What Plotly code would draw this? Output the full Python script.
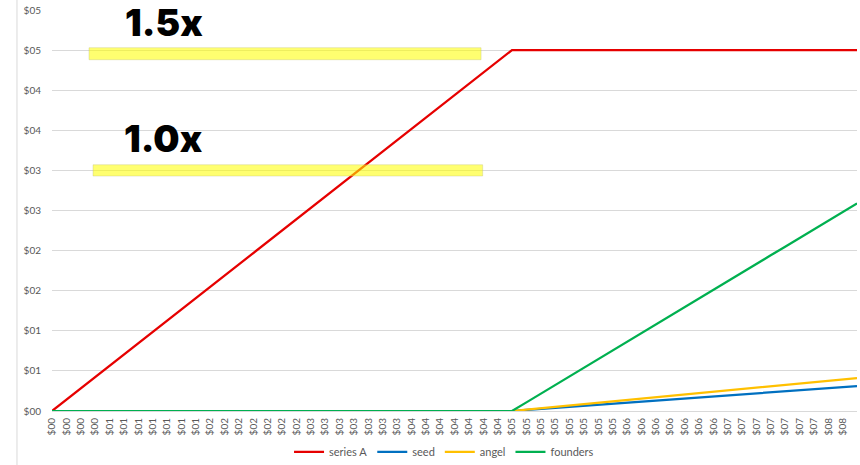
import plotly.graph_objects as go

# Exit values (in $M) along the horizontal axis
exit_value = [0.000, 0.141, 0.281, 0.422, 0.563, 0.703, 0.844, 0.984, 1.125, 1.266,
              1.406, 1.547, 1.688, 1.828, 1.969, 2.109, 2.250, 2.391, 2.531, 2.672,
              2.813, 2.953, 3.094, 3.234, 3.375, 3.516, 3.656, 3.797, 3.938, 4.078,
              4.219, 4.359, 4.500, 4.641, 4.781, 4.922, 5.063, 5.203, 5.344, 5.484,
              5.625, 5.766, 5.906, 6.047, 6.188, 6.328, 6.469, 6.609, 6.750, 6.891,
              7.031, 7.172, 7.313, 7.453, 7.594, 7.734, 7.875]

tick_labels = (["$00"] * 4 + ["$01"] * 7 + ["$02"] * 7 + ["$03"] * 7 +
               ["$04"] * 7 + ["$05"] * 8 + ["$06"] * 7 + ["$07"] * 7 +
               ["$08"] * 3)

# Proceeds to each holder at each exit value
series_a = [0.000, 0.141, 0.281, 0.422, 0.563, 0.703, 0.844, 0.984, 1.125, 1.266,
            1.406, 1.547, 1.688, 1.828, 1.969, 2.109, 2.250, 2.391, 2.531, 2.672,
            2.813, 2.953, 3.094, 3.234, 3.375, 3.516, 3.656, 3.797, 3.938, 4.078,
            4.219, 4.359, 4.500, 4.500, 4.500, 4.500, 4.500, 4.500, 4.500, 4.500,
            4.500, 4.500, 4.500, 4.500, 4.500, 4.500, 4.500, 4.500, 4.500, 4.500,
            4.500, 4.500, 4.500, 4.500, 4.500, 4.500, 4.500]
seed = [0.0] * 33 + [0.013, 0.026, 0.039, 0.052, 0.065, 0.078, 0.090, 0.103,
                     0.116, 0.129, 0.142, 0.155, 0.168, 0.181, 0.194, 0.207,
                     0.220, 0.233, 0.245, 0.258, 0.271, 0.284, 0.297, 0.310]
angel = [0.0] * 33 + [0.017, 0.034, 0.051, 0.068, 0.086, 0.103, 0.120, 0.137,
                      0.154, 0.171, 0.188, 0.205, 0.222, 0.239, 0.257, 0.274,
                      0.291, 0.308, 0.325, 0.342, 0.359, 0.376, 0.393, 0.410]
founders = [0.0] * 33 + [0.108, 0.216, 0.324, 0.431, 0.539, 0.647, 0.755, 0.863,
                         0.971, 1.079, 1.186, 1.294, 1.402, 1.510, 1.618, 1.726,
                         1.834, 1.941, 2.049, 2.157, 2.265, 2.373, 2.481, 2.589]

y_ticks = [0.0, 0.5, 1.0, 1.5, 2.0, 2.5, 3.0, 3.5, 4.0, 4.5, 5.0]
y_tick_labels = ["$00", "$01", "$01", "$02", "$02", "$03", "$03",
                 "$04", "$04", "$05", "$05"]

# Series A preference: invested amount and the multiples that are highlighted
series_a_invested = 3.0
pref_multiples = [1.5, 1.0]
pref_labels = ["1.5x", "1.0x"]

series = [
    ("series A", series_a, "#E60000"),
    ("seed", seed, "#0070C0"),
    ("angel", angel, "#FFC000"),
    ("founders", founders, "#00B050"),
]

fig = go.Figure()
for name, values, color in series:
    fig.add_trace(go.Scatter(
        x=exit_value, y=values, name=name, mode="lines",
        line=dict(color=color, width=2.25),
        hoverinfo="skip",
    ))

# highlighter bands and their labels (band edges / label offsets per multiple)
band_x = [(0.046, 0.533), (0.051, 0.535)]
band_y = [(-0.12, 0.03), (-0.07, 0.07)]
label_dy = [0.35, 0.41]
for mult, label, bx, by, dy in zip(pref_multiples, pref_labels, band_x, band_y, label_dy):
    level = series_a_invested * mult
    fig.add_shape(
        type="rect", xref="paper", yref="y",
        x0=bx[0], x1=bx[1], y0=level + by[0], y1=level + by[1],
        fillcolor="rgba(255,255,0,0.56)",
        line=dict(color="rgba(190,190,120,0.6)", width=0.6),
        layer="above",
    )
    fig.add_annotation(
        x=0.1386, xref="paper", y=level + dy, yref="y",
        text=label, showarrow=False, height=34,
        font=dict(family="Inter", size=37, color="#000000", weight=900),
        xanchor="center", yanchor="middle",
    )

# thin border on the left edge of the chart area
fig.add_shape(type="line", xref="paper", yref="paper",
              x0=-0.0435, x1=-0.0435, y0=-0.2, y1=1.1,
              line=dict(color="#D9D9D9", width=1))

fig.update_layout(
    width=860, height=465,
    margin=dict(l=52, r=3, t=10, b=54, autoexpand=False),
    plot_bgcolor="#FFFFFF", paper_bgcolor="#FFFFFF",
    font=dict(family="Lato", color="#595959"),
    showlegend=True,
    legend=dict(orientation="h", x=0.487, xanchor="center", y=-0.102,
                yanchor="middle", font=dict(size=11, color="#595959"),
                itemwidth=30, tracegroupgap=0),
)
fig.update_xaxes(
    range=[0, 7.875], automargin=False,
    tickmode="array", tickvals=exit_value, ticktext=tick_labels,
    tickangle=-90, tickfont=dict(size=10, color="#595959"),
    showgrid=False, zeroline=False,
    showline=True, linecolor="#D9D9D9", linewidth=1,
    ticks="", ticklabelstandoff=2,
)
fig.update_yaxes(
    range=[0, 5], automargin=False,
    tickmode="array", tickvals=y_ticks, ticktext=y_tick_labels,
    tickfont=dict(size=10, color="#595959"),
    showgrid=True, gridcolor="#D9D9D9", gridwidth=1,
    zeroline=False, showline=False, ticks="", ticklabelstandoff=10,
)

fig.write_html("out.html")
